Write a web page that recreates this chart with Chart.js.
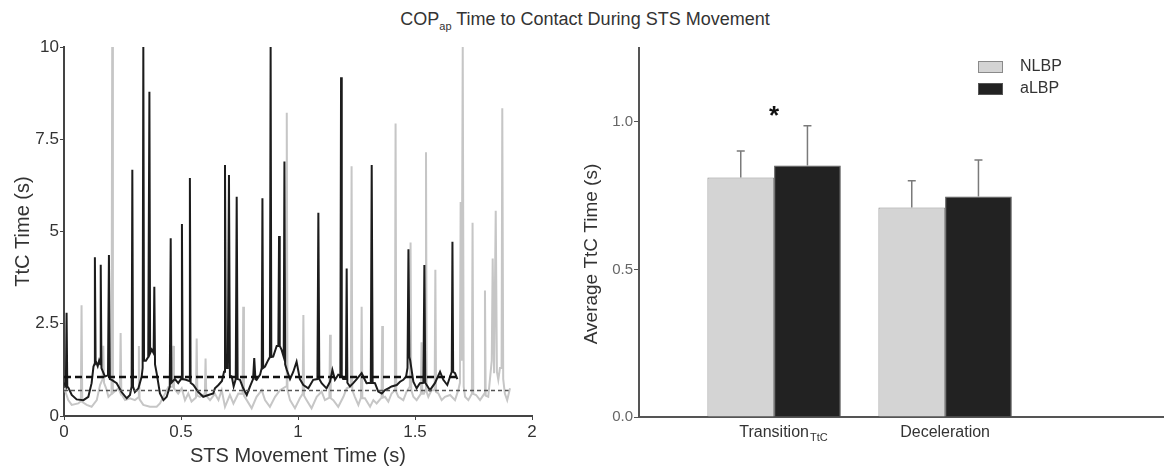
<!DOCTYPE html>
<html>
<head>
<meta charset="utf-8">
<script src="https://cdn.jsdelivr.net/npm/chart.js@4.4.1/dist/chart.umd.min.js"></script>
<style>
  html, body { margin: 0; padding: 0; background: #fff; }
  body { width: 1164px; height: 472px; position: relative; overflow: hidden; font-family: 'Liberation Sans', Arial, sans-serif; }
  #title { position: absolute; left: 0; top: 9px; width: 1170px; text-align: center; font-size: 18px; line-height: 20px; color: #333; }
  #title sub { font-size: 11px; vertical-align: -5px; line-height: 0; }
  #left { position: absolute; left: 0; top: 0; width: 560px; height: 472px; }
  #right { position: absolute; left: 560px; top: 0; width: 604px; height: 472px; }
</style>
</head>
<body>
<div id="title">COP<sub>ap</sub> Time to Contact During STS Movement</div>
<div id="left"><canvas id="ttcLine"></canvas></div>
<div id="right"><canvas id="ttcBar"></canvas></div>
<script>
const family = "'Liberation Sans', Arial, sans-serif";

// ---- left panel: TtC traces over the STS movement ----
const timeALBP = [0.000, 0.008, 0.011, 0.014, 0.020, 0.033, 0.054, 0.083, 0.104, 0.118, 0.126, 0.130, 0.132, 0.135, 0.144, 0.150, 0.155, 0.157, 0.160, 0.175,
  0.188, 0.192, 0.196, 0.204, 0.225, 0.246, 0.268, 0.282, 0.289, 0.292, 0.295, 0.303, 0.318, 0.332, 0.336, 0.339, 0.342, 0.350, 0.360, 0.362,
  0.365, 0.368, 0.375, 0.383, 0.386, 0.389, 0.396, 0.410, 0.425, 0.439, 0.452, 0.456, 0.459, 0.474, 0.488, 0.500, 0.504, 0.507, 0.521, 0.535,
  0.538, 0.541, 0.553, 0.574, 0.595, 0.617, 0.638, 0.645, 0.660, 0.675, 0.684, 0.688, 0.692, 0.700, 0.705, 0.709, 0.717, 0.725, 0.734, 0.738,
  0.742, 0.752, 0.766, 0.781, 0.795, 0.808, 0.813, 0.818, 0.823, 0.838, 0.845, 0.848, 0.851, 0.859, 0.873, 0.880, 0.883, 0.886, 0.894, 0.909,
  0.916, 0.919, 0.922, 0.930, 0.939, 0.942, 0.945, 0.952, 0.966, 0.980, 0.994, 1.008, 1.023, 1.044, 1.065, 1.083, 1.087, 1.091, 1.101, 1.122,
  1.137, 1.147, 1.158, 1.172, 1.181, 1.184, 1.187, 1.193, 1.205, 1.208, 1.211, 1.222, 1.236, 1.251, 1.272, 1.293, 1.311, 1.315, 1.319, 1.329,
  1.343, 1.358, 1.372, 1.386, 1.400, 1.422, 1.436, 1.450, 1.462, 1.468, 1.472, 1.476, 1.479, 1.493, 1.507, 1.521, 1.536, 1.540, 1.544, 1.550,
  1.564, 1.585, 1.607, 1.621, 1.638, 1.650, 1.657, 1.660, 1.663, 1.671, 1.681];
const ttcALBP = [0.90, 0.80, 2.80, 0.80, 0.75, 0.57, 0.45, 0.43, 0.52, 0.89, 1.34, 1.40, 4.30, 1.50, 1.35, 1.50, 1.40, 4.10, 1.30, 1.07,
  1.10, 4.36, 1.00, 0.98, 0.89, 0.65, 0.48, 0.57, 0.80, 6.67, 0.80, 0.65, 0.75, 1.07, 1.30, 10.0, 1.50, 1.50, 1.60, 1.60,
  8.79, 1.70, 1.80, 1.70, 3.50, 1.40, 1.16, 0.61, 0.43, 0.52, 0.80, 4.82, 0.90, 1.00, 0.89, 1.00, 5.20, 1.00, 0.98, 0.95,
  6.45, 0.90, 0.84, 0.65, 0.52, 0.57, 0.61, 0.75, 0.84, 0.95, 1.20, 6.80, 1.30, 1.30, 6.53, 1.10, 1.07, 0.80, 1.00, 5.94,
  1.00, 0.98, 0.75, 0.57, 0.80, 1.00, 1.57, 1.00, 0.98, 1.12, 1.30, 5.90, 1.30, 1.34, 1.52, 1.60, 10.0, 1.60, 1.61, 1.90,
  1.90, 4.88, 1.90, 1.79, 1.60, 6.90, 1.40, 1.25, 1.00, 1.20, 1.47, 1.00, 0.84, 0.75, 0.98, 1.00, 5.51, 1.00, 0.89, 0.75,
  0.93, 1.25, 0.98, 1.12, 1.10, 9.18, 1.10, 1.00, 1.00, 4.00, 0.90, 0.80, 0.89, 1.00, 1.16, 0.89, 0.90, 6.80, 0.90, 0.89,
  0.66, 0.61, 0.70, 0.75, 0.80, 0.84, 0.93, 0.98, 1.07, 1.30, 4.52, 1.60, 1.52, 0.93, 0.75, 0.89, 0.90, 4.09, 0.90, 0.84,
  0.70, 0.89, 1.20, 0.98, 0.84, 1.07, 1.20, 4.72, 1.20, 1.16, 1.00];

const timeNLBP = [0.000, 0.004, 0.018, 0.033, 0.061, 0.072, 0.075, 0.078, 0.097, 0.118, 0.140, 0.154, 0.165, 0.168, 0.171, 0.180, 0.190, 0.203, 0.206, 0.209,
  0.232, 0.239, 0.242, 0.245, 0.261, 0.282, 0.303, 0.317, 0.320, 0.323, 0.339, 0.367, 0.396, 0.410, 0.432, 0.446, 0.464, 0.467, 0.470, 0.488,
  0.503, 0.517, 0.531, 0.545, 0.564, 0.567, 0.570, 0.581, 0.602, 0.605, 0.608, 0.624, 0.645, 0.660, 0.674, 0.688, 0.709, 0.724, 0.745, 0.763,
  0.766, 0.769, 0.781, 0.802, 0.823, 0.845, 0.859, 0.880, 0.902, 0.923, 0.949, 0.952, 0.955, 0.966, 0.987, 1.008, 1.020, 1.023, 1.026, 1.037,
  1.058, 1.080, 1.101, 1.115, 1.134, 1.137, 1.140, 1.151, 1.172, 1.194, 1.208, 1.226, 1.229, 1.232, 1.243, 1.258, 1.269, 1.272, 1.275, 1.286,
  1.308, 1.322, 1.336, 1.357, 1.360, 1.363, 1.372, 1.386, 1.400, 1.414, 1.417, 1.420, 1.429, 1.450, 1.464, 1.478, 1.481, 1.484, 1.493, 1.507,
  1.525, 1.528, 1.531, 1.538, 1.544, 1.547, 1.550, 1.557, 1.571, 1.584, 1.587, 1.590, 1.600, 1.614, 1.628, 1.650, 1.671, 1.685, 1.692, 1.695,
  1.699, 1.704, 1.708, 1.714, 1.728, 1.743, 1.746, 1.749, 1.761, 1.778, 1.796, 1.799, 1.802, 1.813, 1.828, 1.832, 1.838, 1.845, 1.850, 1.856,
  1.863, 1.870, 1.873, 1.877, 1.884, 1.894, 1.906];
const ttcNLBP = [0.75, 0.70, 0.43, 0.30, 0.34, 0.40, 3.00, 0.38, 0.30, 0.25, 0.43, 0.84, 1.00, 1.90, 0.90, 0.75, 0.52, 0.60, 10.0, 0.62,
  0.75, 0.65, 2.25, 0.60, 0.43, 0.48, 0.43, 0.50, 1.90, 0.45, 0.30, 0.25, 0.25, 0.34, 0.61, 0.79, 0.80, 1.90, 0.75, 0.61,
  0.75, 0.43, 0.61, 0.39, 0.50, 2.10, 0.55, 0.52, 0.60, 1.56, 0.55, 0.43, 0.60, 0.43, 0.70, 0.25, 0.57, 0.34, 0.61, 0.60,
  2.96, 0.55, 0.43, 0.21, 0.52, 0.70, 0.43, 0.25, 0.52, 0.70, 0.80, 8.22, 0.70, 0.43, 0.21, 0.48, 0.60, 2.74, 0.55, 0.43,
  0.21, 0.52, 0.66, 0.43, 0.50, 2.20, 0.48, 0.43, 0.25, 0.52, 0.75, 0.80, 6.77, 0.70, 0.52, 0.30, 0.50, 2.96, 0.48, 0.48,
  0.25, 0.43, 0.34, 0.50, 2.44, 0.50, 0.52, 0.39, 0.61, 0.70, 7.93, 0.65, 0.52, 0.43, 0.66, 0.80, 4.70, 0.70, 0.52, 0.43,
  0.60, 2.00, 0.60, 0.60, 0.70, 7.15, 0.65, 0.52, 0.70, 0.70, 3.96, 0.65, 0.61, 0.43, 0.52, 0.57, 0.43, 0.70, 0.90, 5.80,
  1.50, 10.0, 0.80, 0.52, 0.43, 0.60, 5.24, 0.60, 0.57, 0.43, 0.60, 3.40, 0.55, 0.52, 1.50, 4.27, 1.16, 5.56, 1.20, 0.98,
  1.30, 1.30, 8.34, 1.00, 0.61, 0.43, 0.75];

// mean TtC levels (dashed lines): [start, end] times and level
const meanALBP = { span: [0, 1.68], level: 1.06 };
const meanNLBP = { span: [0, 1.90], level: 0.69 };

const lineTicksX = [0, 0.5, 1, 1.5, 2];
const lineTicksY = [0, 2.5, 5, 7.5, 10];

// ---- right panel: average TtC per phase ----
const phases = ['Transition', 'Deceleration'];
const phaseSub = ['TtC', ''];
const phasePos = [1, 2];
const avgNLBP = [0.811, 0.710];
const avgALBP = [0.852, 0.747];
const sdNLBP = [0.090, 0.090];
const sdALBP = [0.135, 0.124];
const barTicks = [0, 0.5, 1.0];

const toPoints = (xs, ys) => xs.map((x, i) => ({ x: x, y: ys[i] }));

new Chart(document.getElementById('ttcLine'), {
  type: 'line',
  data: {
    datasets: [
      { label: 'aLBP mean', data: toPoints(meanALBP.span, [meanALBP.level, meanALBP.level]), borderColor: '#111', borderWidth: 2.5, borderDash: [7, 4], order: 0 },
      { label: 'NLBP mean', data: toPoints(meanNLBP.span, [meanNLBP.level, meanNLBP.level]), borderColor: '#555', borderWidth: 1.5, borderDash: [4, 3], order: 1 },
      { label: 'aLBP', data: toPoints(timeALBP, ttcALBP), borderColor: '#1c1c1c', borderWidth: 2, order: 2 },
      { label: 'NLBP', data: toPoints(timeNLBP, ttcNLBP), borderColor: '#c6c6c6', borderWidth: 2, order: 3 }
    ]
  },
  options: {
    animation: false,
    responsive: true,
    maintainAspectRatio: false,
    layout: { padding: { top: 47, right: 28, bottom: 0, left: 0 } },
    elements: { point: { radius: 0 }, line: { tension: 0 } },
    plugins: { legend: { display: false }, tooltip: { enabled: false } },
    scales: {
      x: {
        type: 'linear', min: 0, max: 2,
        afterBuildTicks: s => { s.ticks = lineTicksX.map(v => ({ value: v })); },
        afterFit: s => { s.height = 56; },
        grid: { drawOnChartArea: false, tickLength: 4, color: '#444' },
        border: { color: '#444', width: 2 },
        ticks: { font: { family, size: 17 }, color: '#333', padding: 2, maxRotation: 0, callback: v => String(v) },
        title: { display: true, text: 'STS Movement Time (s)', font: { family, size: 20 }, color: '#333', padding: { top: 0, bottom: 4 } }
      },
      y: {
        min: 0, max: 10,
        afterBuildTicks: s => { s.ticks = lineTicksY.map(v => ({ value: v })); },
        afterFit: s => { s.width = 64; },
        grid: { drawOnChartArea: false, tickLength: 4, color: '#444' },
        border: { color: '#444', width: 2 },
        ticks: { font: { family, size: 17 }, color: '#333', padding: 1, callback: v => String(v) },
        title: { display: true, text: 'TtC Time (s)', font: { family, size: 20 }, color: '#333', padding: { top: 11, bottom: 0 } }
      }
    }
  }
});

// error bars, asterisk, subscripts, y title and legend for the bar panel
const barExtras = {
  id: 'barExtras',
  afterDatasetsDraw(chart) {
    const { ctx, chartArea } = chart;
    const x = chart.scales.x, y = chart.scales.y;
    ctx.save();
    chart.data.datasets.forEach((ds, di) => {
      chart.getDatasetMeta(di).data.forEach((bar, i) => {
        const top = y.getPixelForValue(ds.data[i].y + ds.errors[i]);
        ctx.strokeStyle = '#7a7a7a';
        ctx.lineWidth = 1.5;
        ctx.beginPath();
        ctx.moveTo(bar.x, bar.y);
        ctx.lineTo(bar.x, top);
        ctx.moveTo(bar.x - 4, top);
        ctx.lineTo(bar.x + 4, top);
        ctx.stroke();
      });
    });

    // significance marker
    ctx.fillStyle = '#111';
    ctx.font = 'bold 26px ' + family;
    ctx.textAlign = 'center';
    ctx.textBaseline = 'middle';
    ctx.fillText('*', x.getPixelForValue(phasePos[0]), y.getPixelForValue(1.035) + 5);

    // subscripts on phase labels
    phases.forEach((p, i) => {
      if (!phaseSub[i]) return;
      ctx.font = '16px ' + family;
      const w = ctx.measureText(p).width;
      ctx.font = '11px ' + family;
      ctx.fillStyle = '#333';
      ctx.textAlign = 'left';
      ctx.fillText(phaseSub[i], x.getPixelForValue(phasePos[i]) + w / 2 + 1, 438);
    });

    // y axis title
    ctx.save();
    ctx.translate(32, 254);
    ctx.rotate(-Math.PI / 2);
    ctx.font = '19px ' + family;
    ctx.fillStyle = '#333';
    ctx.textAlign = 'center';
    ctx.textBaseline = 'middle';
    ctx.fillText('Average TtC Time (s)', 0, 0);
    ctx.restore();

    // legend
    chart.data.datasets.forEach((ds, i) => {
      const bx = chartArea.right - 186, by = 61 + i * 22;
      ctx.fillStyle = ds.backgroundColor;
      ctx.fillRect(bx, by, 25, 12);
      ctx.strokeStyle = ds.borderColor;
      ctx.lineWidth = 1;
      ctx.strokeRect(bx + 0.5, by + 0.5, 24, 11);
      ctx.fillStyle = '#333';
      ctx.font = '16px ' + family;
      ctx.textAlign = 'left';
      ctx.textBaseline = 'middle';
      ctx.fillText(ds.label, bx + 42, by + 6);
    });
    ctx.restore();
  }
};

new Chart(document.getElementById('ttcBar'), {
  type: 'bar',
  data: {
    datasets: [
      { label: 'NLBP', data: toPoints(phasePos, avgNLBP), errors: sdNLBP, backgroundColor: '#d4d4d4', borderColor: '#8a8a8a', borderWidth: 1, categoryPercentage: 0.78, barPercentage: 1 },
      { label: 'aLBP', data: toPoints(phasePos, avgALBP), errors: sdALBP, backgroundColor: '#222222', borderColor: '#555555', borderWidth: 1, categoryPercentage: 0.78, barPercentage: 1 }
    ]
  },
  options: {
    animation: false,
    responsive: true,
    maintainAspectRatio: false,
    layout: { padding: { top: 48, right: 0, bottom: 0, left: 0 } },
    plugins: { legend: { display: false }, tooltip: { enabled: false } },
    scales: {
      x: {
        type: 'linear', min: 0.21, max: 3.28, offset: false,
        afterBuildTicks: s => { s.ticks = phasePos.map(v => ({ value: v })); },
        afterFit: s => { s.height = 55; },
        grid: { drawOnChartArea: false, drawTicks: false, offset: false },
        border: { color: '#555', width: 2 },
        ticks: { font: { family, size: 16 }, color: '#333', padding: 6, maxRotation: 0, callback: (v, i) => phases[i] }
      },
      y: {
        min: 0, max: 1.25,
        afterBuildTicks: s => { s.ticks = barTicks.map(v => ({ value: v })); },
        afterFit: s => { s.width = 79; },
        grid: { drawOnChartArea: false, tickLength: 5, color: '#555' },
        border: { color: '#555', width: 2 },
        ticks: { font: { family, size: 15 }, color: '#666', padding: 1, callback: v => v.toFixed(1) }
      }
    }
  },
  plugins: [barExtras]
});
</script>
</body>
</html>
